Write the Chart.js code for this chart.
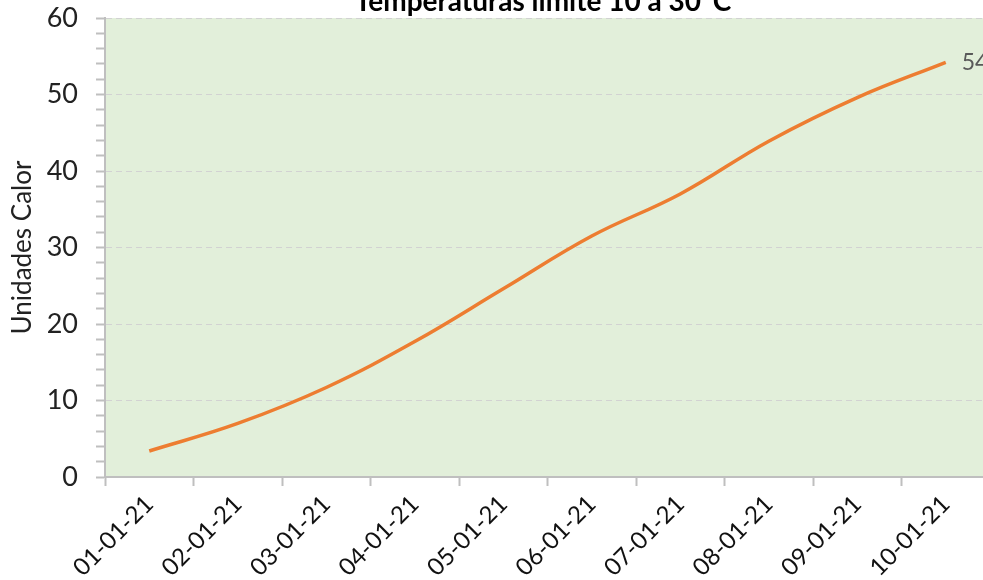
<!DOCTYPE html>
<html>
<head>
<meta charset="utf-8">
<script src="https://cdn.jsdelivr.net/npm/chart.js@4"></script>
<style>
  html, body { margin: 0; padding: 0; background: #fff; }
  #wrap { width: 983px; height: 580px; overflow: hidden; position: relative; }
  canvas { position: absolute; left: 0; top: 0; }
</style>
</head>
<body>
<div id="wrap">
  <canvas id="chart" width="990" height="580"></canvas>
</div>
<script>
// Monthly categories and cumulative heat units
const months = ['01-01-21', '02-01-21', '03-01-21', '04-01-21', '05-01-21',
                '06-01-21', '07-01-21', '08-01-21', '09-01-21', '10-01-21'];
const heatUnits = [3.4, 7.0, 11.7, 17.7, 24.6, 31.5, 37.0, 43.9, 49.6, 54.2];
const lastLabel = '54';

const chartTitle = 'Temperaturas límite 10 a 30°C';
const yTitle = 'Unidades Calor';

const FONT = 'Lato, "Open Sans", sans-serif';

// green plot area + the cut off title + the value label of the last point
const decorations = {
    id: 'decorations',
    beforeDraw(chart) {
        const { ctx, chartArea } = chart;
        ctx.save();
        ctx.fillStyle = '#E2EFDA';
        ctx.fillRect(chartArea.left, chartArea.top,
            chartArea.right - chartArea.left, chartArea.bottom - chartArea.top);
        ctx.restore();
    },
    afterDraw(chart) {
        const { ctx } = chart;
        ctx.save();
        ctx.font = 'bold 28px ' + FONT;
        ctx.fillStyle = '#000';
        ctx.textAlign = 'center';
        ctx.textBaseline = 'alphabetic';
        ctx.fillText(chartTitle, 543, 11);

        const meta = chart.getDatasetMeta(0);
        const pt = meta.data[meta.data.length - 1];
        ctx.font = '23px ' + FONT;
        ctx.fillStyle = '#595959';
        ctx.textAlign = 'left';
        ctx.textBaseline = 'middle';
        ctx.fillText(lastLabel, pt.x + 16, pt.y);
        ctx.restore();
    }
};

new Chart(document.getElementById('chart'), {
    type: 'line',
    data: {
        labels: months,
        datasets: [{
            data: heatUnits,
            borderColor: '#ED7D31',
            borderWidth: 3.5,
            pointRadius: 0,
            tension: 0.4,
            fill: false,
        }],
    },
    options: {
        responsive: false,
        animation: false,
        devicePixelRatio: 1,
        layout: { padding: { top: 18, left: 0, right: 0, bottom: 0 } },
        plugins: {
            legend: { display: false },
            title: { display: false },
            tooltip: { enabled: false },
        },
        scales: {
            x: {
                offset: true,
                afterFit: (axis) => { axis.height = 103; },
                grid: {
                    offset: true,
                    drawOnChartArea: false,
                    tickLength: 9,
                    tickColor: '#BFBFBF',
                    tickWidth: 2,
                },
                border: { color: '#BFBFBF', width: 2 },
                ticks: {
                    minRotation: 45,
                    maxRotation: 45,
                    autoSkip: false,
                    padding: 4,
                    color: '#111',
                    font: { family: FONT, size: 24 },
                },
            },
            y: {
                min: 0,
                max: 60,
                afterFit: (axis) => {
                    axis.width = 105;
                    // let the plot reach the top, the 60 label may stick out
                    axis.paddingTop = 0;
                    axis.paddingBottom = 0;
                },
                title: {
                    display: true,
                    text: yTitle,
                    color: '#222',
                    font: { family: FONT, size: 26 },
                    padding: { top: 7, bottom: 0 },
                },
                grid: {
                    // only the major values get a dashed line, every tick keeps its mark
                    color: (ctx) => (ctx.tick && ctx.tick.value % 10 === 0) ? '#D2D2D2' : 'rgba(0,0,0,0)',
                    tickColor: '#BFBFBF',
                    tickLength: 9,
                    tickWidth: 2,
                },
                border: { color: '#BFBFBF', width: 2, dash: [6, 4] },
                ticks: {
                    stepSize: 2,
                    autoSkip: false,
                    padding: 18,
                    color: '#222',
                    font: { family: FONT, size: 27 },
                    callback: (v) => (v % 10 === 0 ? v : ''),
                },
            },
        },
    },
    plugins: [decorations],
});
</script>
</body>
</html>
